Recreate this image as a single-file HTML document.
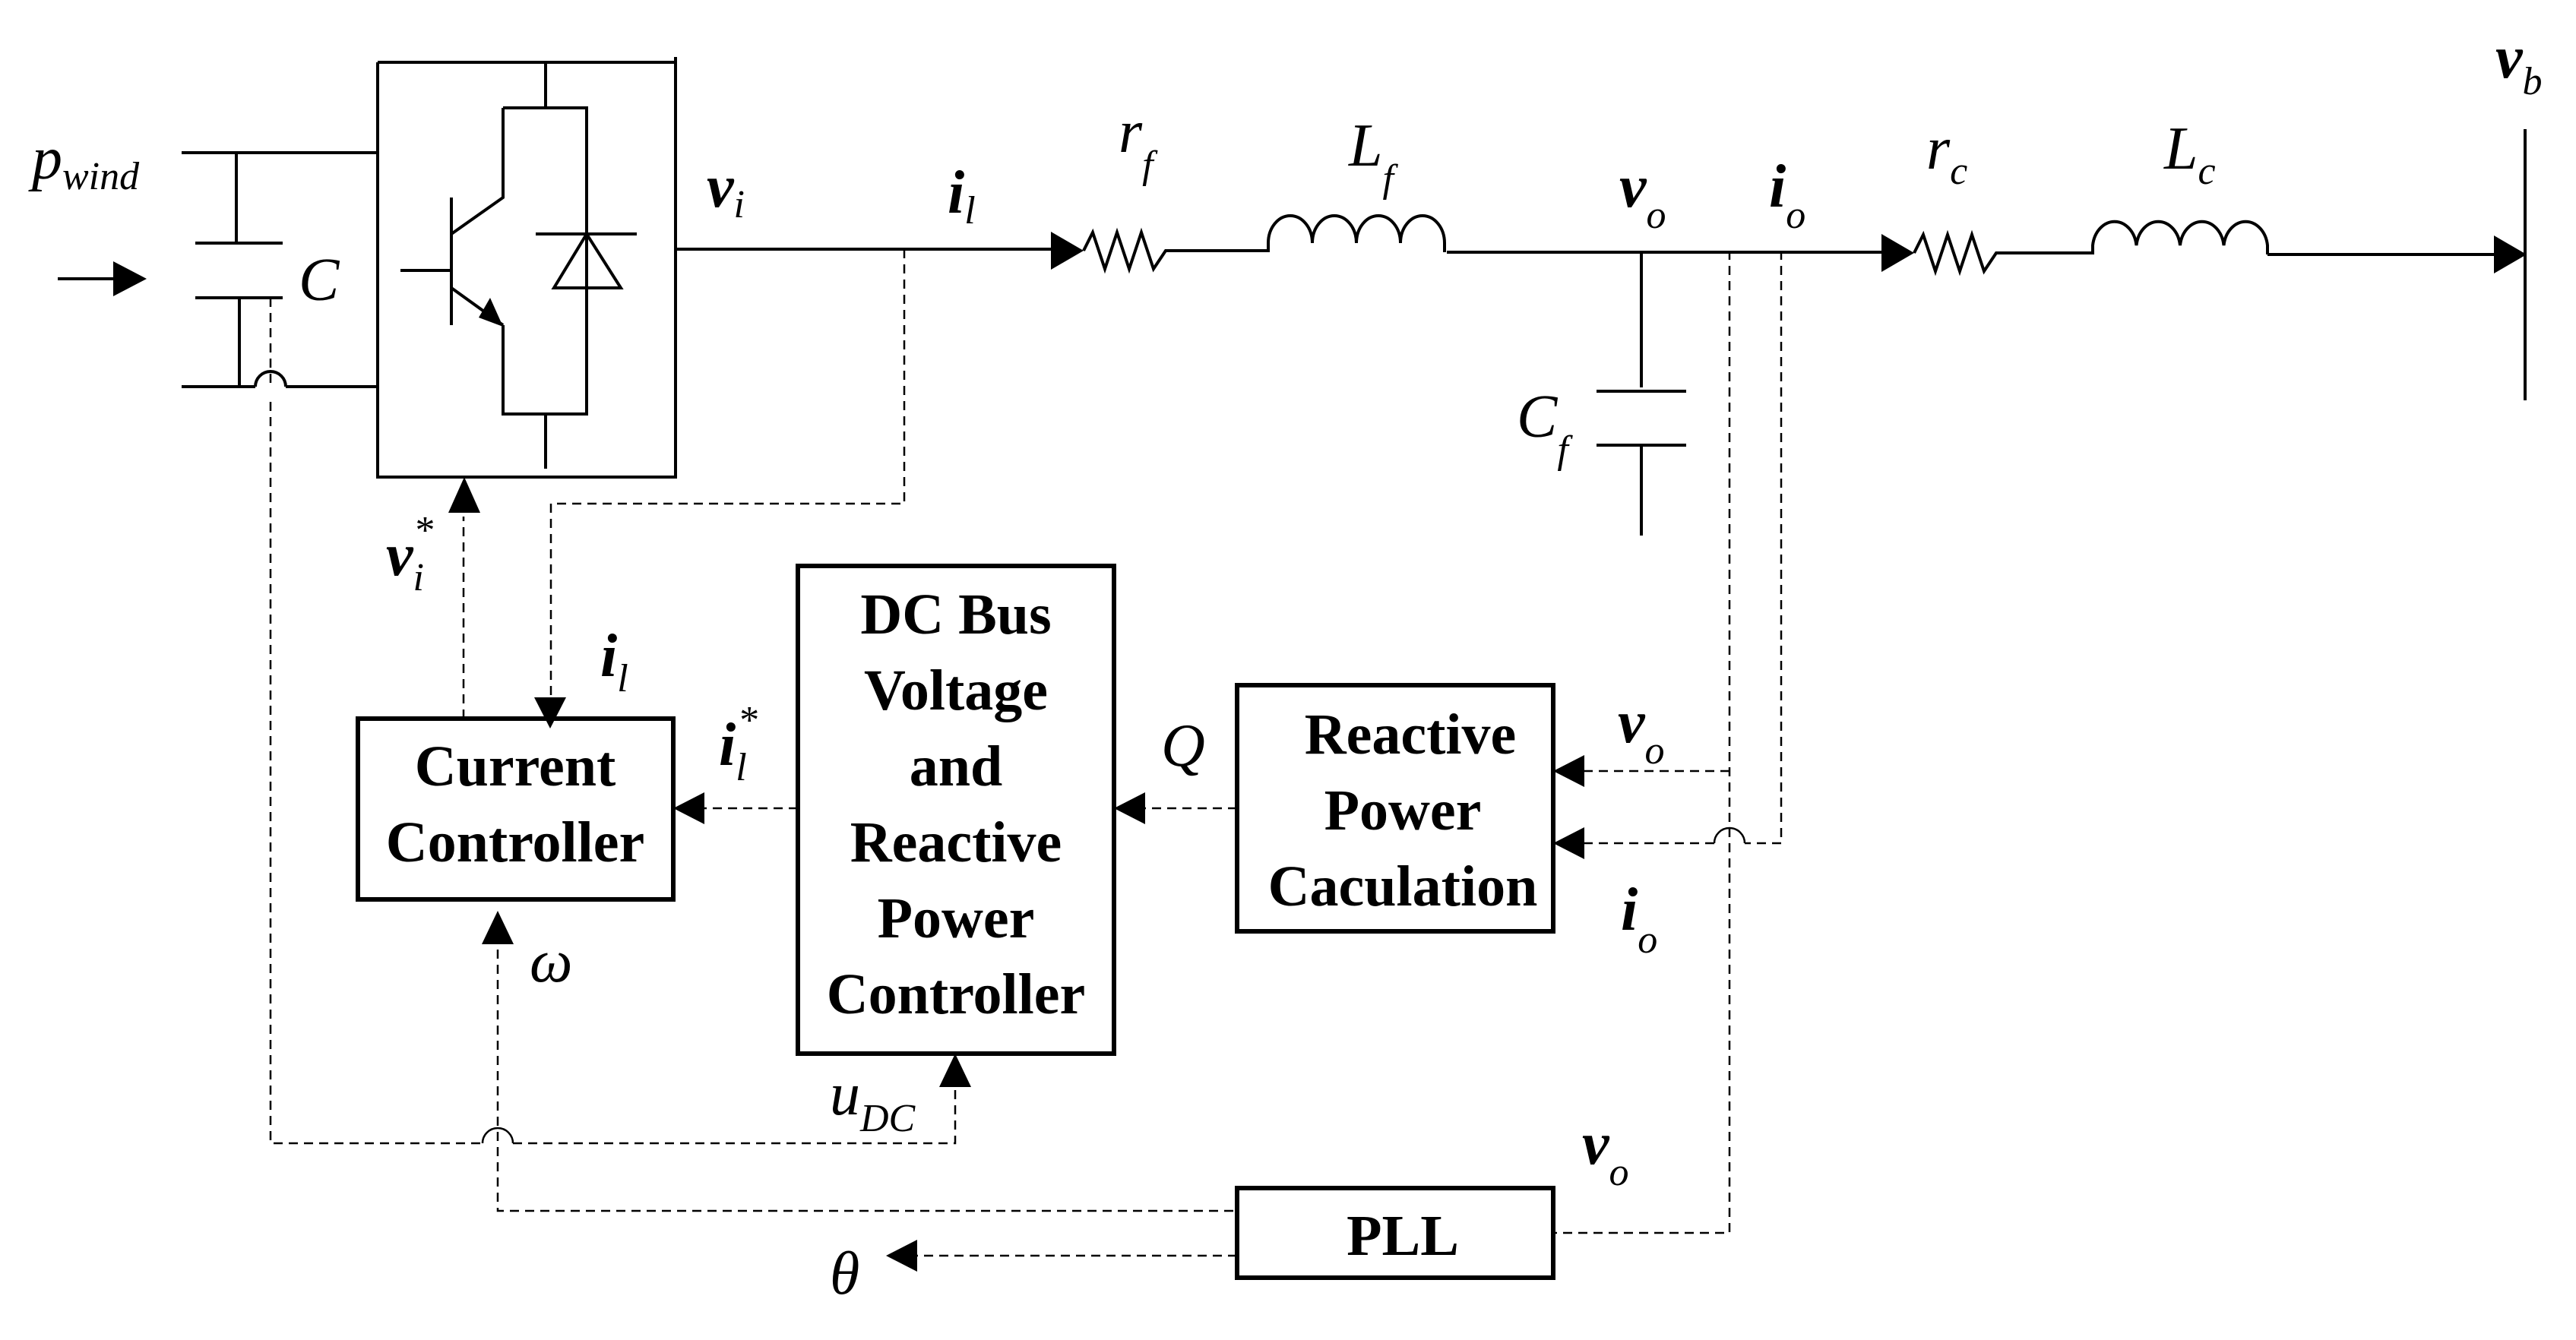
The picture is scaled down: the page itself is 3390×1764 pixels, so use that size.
<!DOCTYPE html>
<html><head><meta charset="utf-8"><style>
html,body{margin:0;padding:0;background:#fff}
svg{display:block}
text{font-family:"Liberation Serif",serif;fill:#000}
.lb{font-style:italic;font-size:80px}
.bl{font-weight:bold}
.sb{font-style:italic;font-weight:normal;font-size:52px}
.bx{font-weight:bold;font-size:76px;text-anchor:middle}
</style></head><body>
<svg width="3390" height="1764" viewBox="0 0 3390 1764" xmlns="http://www.w3.org/2000/svg">
<g stroke="#000" stroke-width="4" fill="none">
<!-- DC side -->
<path d="M239 201H497 M239 509H336 M376 509H497 M311 201V320 M257 320H372 M257 392H372 M315 392V509"/>
<path d="M336 509 A20 20 0 0 1 376 509"/>
<path d="M76 367H160"/>
<!-- inverter box -->
<path d="M497 82H889 M497 82V628H889 M889 75V630"/>
<path d="M718 82V142 M662 142H772V545H662V428 M662 142V260 L594 308 M594 260V428 M527 356H594 M594 379 L662 428 M718 545V617"/>
<path d="M705 308H838 M729 379H817L772 308Z"/>
<!-- main line -->
<path d="M889 328H1390 M1546 330H1669 M1904 332H2480 M2638 333H2754 M2984 335H3290"/>
<path d="M1426 330 l12 -24 l16 48 l16 -48 l16 48 l16 -48 l16 48 l16 -24 h12"/>
<path d="M2519 333 l12 -24 l16 48 l16 -48 l16 48 l16 -48 l16 48 l16 -24 h12"/>
<path d="M1669 332 v-12 a29 36 0 0 1 58 0 a29 36 0 0 1 58 0 a29 36 0 0 1 58 0 a29 36 0 0 1 58 0 v12"/>
<path d="M2754 335 v-12 a29 36 0 0 1 57.5 0 a29 36 0 0 1 57.5 0 a29 36 0 0 1 57.5 0 a29 36 0 0 1 57.5 0 v12"/>
<path d="M3323 170V527"/>
<!-- Cf -->
<path d="M2160 332V510 M2101 515H2219 M2101 586H2219 M2160 586V705"/>
<!-- boxes -->
<rect x="471" y="946" width="415" height="238" stroke-width="6"/>
<rect x="1050" y="745" width="416" height="642" stroke-width="6"/>
<rect x="1628" y="902" width="416" height="324" stroke-width="6"/>
<rect x="1628" y="1564" width="416" height="118" stroke-width="6"/>
</g>
<g stroke="#000" stroke-width="2.5" fill="none" stroke-dasharray="12 8">
<path d="M1190 328V663H725V945"/>
<path d="M610 946V680"/>
<path d="M356 392V509"/>
<path d="M356 529V1505H635 M675 1505H1257V1395"/>
<path d="M655 1250V1594H1628"/>
<path d="M2276 330V1623H2044"/>
<path d="M2344 330V1110H2296 M2256 1110H2068"/>
<path d="M2276 1015H2068"/>
<path d="M1628 1064H1490 M1050 1064H910"/>
<path d="M1628 1653H1190"/>
</g>
<g stroke="#000" stroke-width="2.5" fill="none">
<path d="M635 1505 a20 20 0 0 1 40 0"/>
<path d="M2256 1110 a20 20 0 0 1 40 0"/>
</g>
<g fill="#000">
<path d="M149 344L193 367L149 390Z"/>
<path d="M1383 305L1426 330L1383 355Z"/>
<path d="M2476 308L2519 333L2476 358Z"/>
<path d="M3282 310L3325 335L3282 360Z"/>
<path d="M645 392L662 430L630 418Z"/>
<path d="M611 628L590 675H632Z"/>
<path d="M724 959L703 918H745Z"/>
<path d="M886 1064L927 1043V1085Z"/>
<path d="M1466 1064L1507 1043V1085Z"/>
<path d="M2044 1015L2085 994V1036Z"/>
<path d="M2044 1110L2085 1089V1131Z"/>
<path d="M655 1199L634 1243H676Z"/>
<path d="M1257 1387L1236 1431H1278Z"/>
<path d="M1166 1653L1207 1632V1674Z"/>
</g>
<!-- labels -->
<text x="42" y="235" class="lb">p<tspan class="sb" dy="14">wind</tspan></text>
<text x="393" y="395" class="lb">C</text>
<text x="930" y="272" class="lb bl">v<tspan class="sb" dy="14">i</tspan></text>
<text x="1247" y="280" class="lb bl">i<tspan class="sb" dy="14">l</tspan></text>
<text x="1472" y="200" class="lb">r<tspan class="sb" dy="34">f</tspan></text>
<text x="1775" y="218" class="lb">L<tspan class="sb" dy="34">f</tspan></text>
<text x="2131" y="272" class="lb bl">v<tspan class="sb" dy="28">o</tspan></text>
<text x="2328" y="272" class="lb bl">i<tspan class="sb" dy="28">o</tspan></text>
<text x="2535" y="222" class="lb">r<tspan class="sb" dy="20">c</tspan></text>
<text x="2848" y="222" class="lb">L<tspan class="sb" dy="20">c</tspan></text>
<text x="3284" y="102" class="lb bl">v<tspan class="sb" dy="22">b</tspan></text>
<text x="1996" y="575" class="lb">C<tspan class="sb" dy="34">f</tspan></text>
<text x="508" y="757" class="lb bl">v<tspan class="sb" dy="20">i</tspan><tspan class="sb" dx="-14" dy="-62">*</tspan></text>
<text x="790" y="890" class="lb bl">i<tspan class="sb" dy="20">l</tspan></text>
<text x="946" y="1007" class="lb bl">i<tspan class="sb" dy="20">l</tspan><tspan class="sb" dx="-12" dy="-62">*</tspan></text>
<text x="1528" y="1008" class="lb">Q</text>
<text x="2129" y="977" class="lb bl">v<tspan class="sb" dy="28">o</tspan></text>
<text x="2133" y="1224" class="lb bl">i<tspan class="sb" dy="30">o</tspan></text>
<text x="697" y="1292" class="lb">ω</text>
<text x="1092" y="1467" class="lb">u<tspan class="sb" dy="22">DC</tspan></text>
<text x="2082" y="1532" class="lb bl">v<tspan class="sb" dy="28">o</tspan></text>
<text x="1092" y="1703" class="lb">θ</text>
<text class="bx" x="678" y="1034">Current</text>
<text class="bx" x="678" y="1134">Controller</text>
<text class="bx" x="1258" y="834">DC Bus</text>
<text class="bx" x="1258" y="934">Voltage</text>
<text class="bx" x="1258" y="1034">and</text>
<text class="bx" x="1258" y="1134">Reactive</text>
<text class="bx" x="1258" y="1234">Power</text>
<text class="bx" x="1258" y="1334">Controller</text>
<text class="bx" x="1856" y="992">Reactive</text>
<text class="bx" x="1846" y="1092">Power</text>
<text class="bx" x="1846" y="1192">Caculation</text>
<text class="bx" x="1846" y="1652">PLL</text>
</svg>
</body></html>
